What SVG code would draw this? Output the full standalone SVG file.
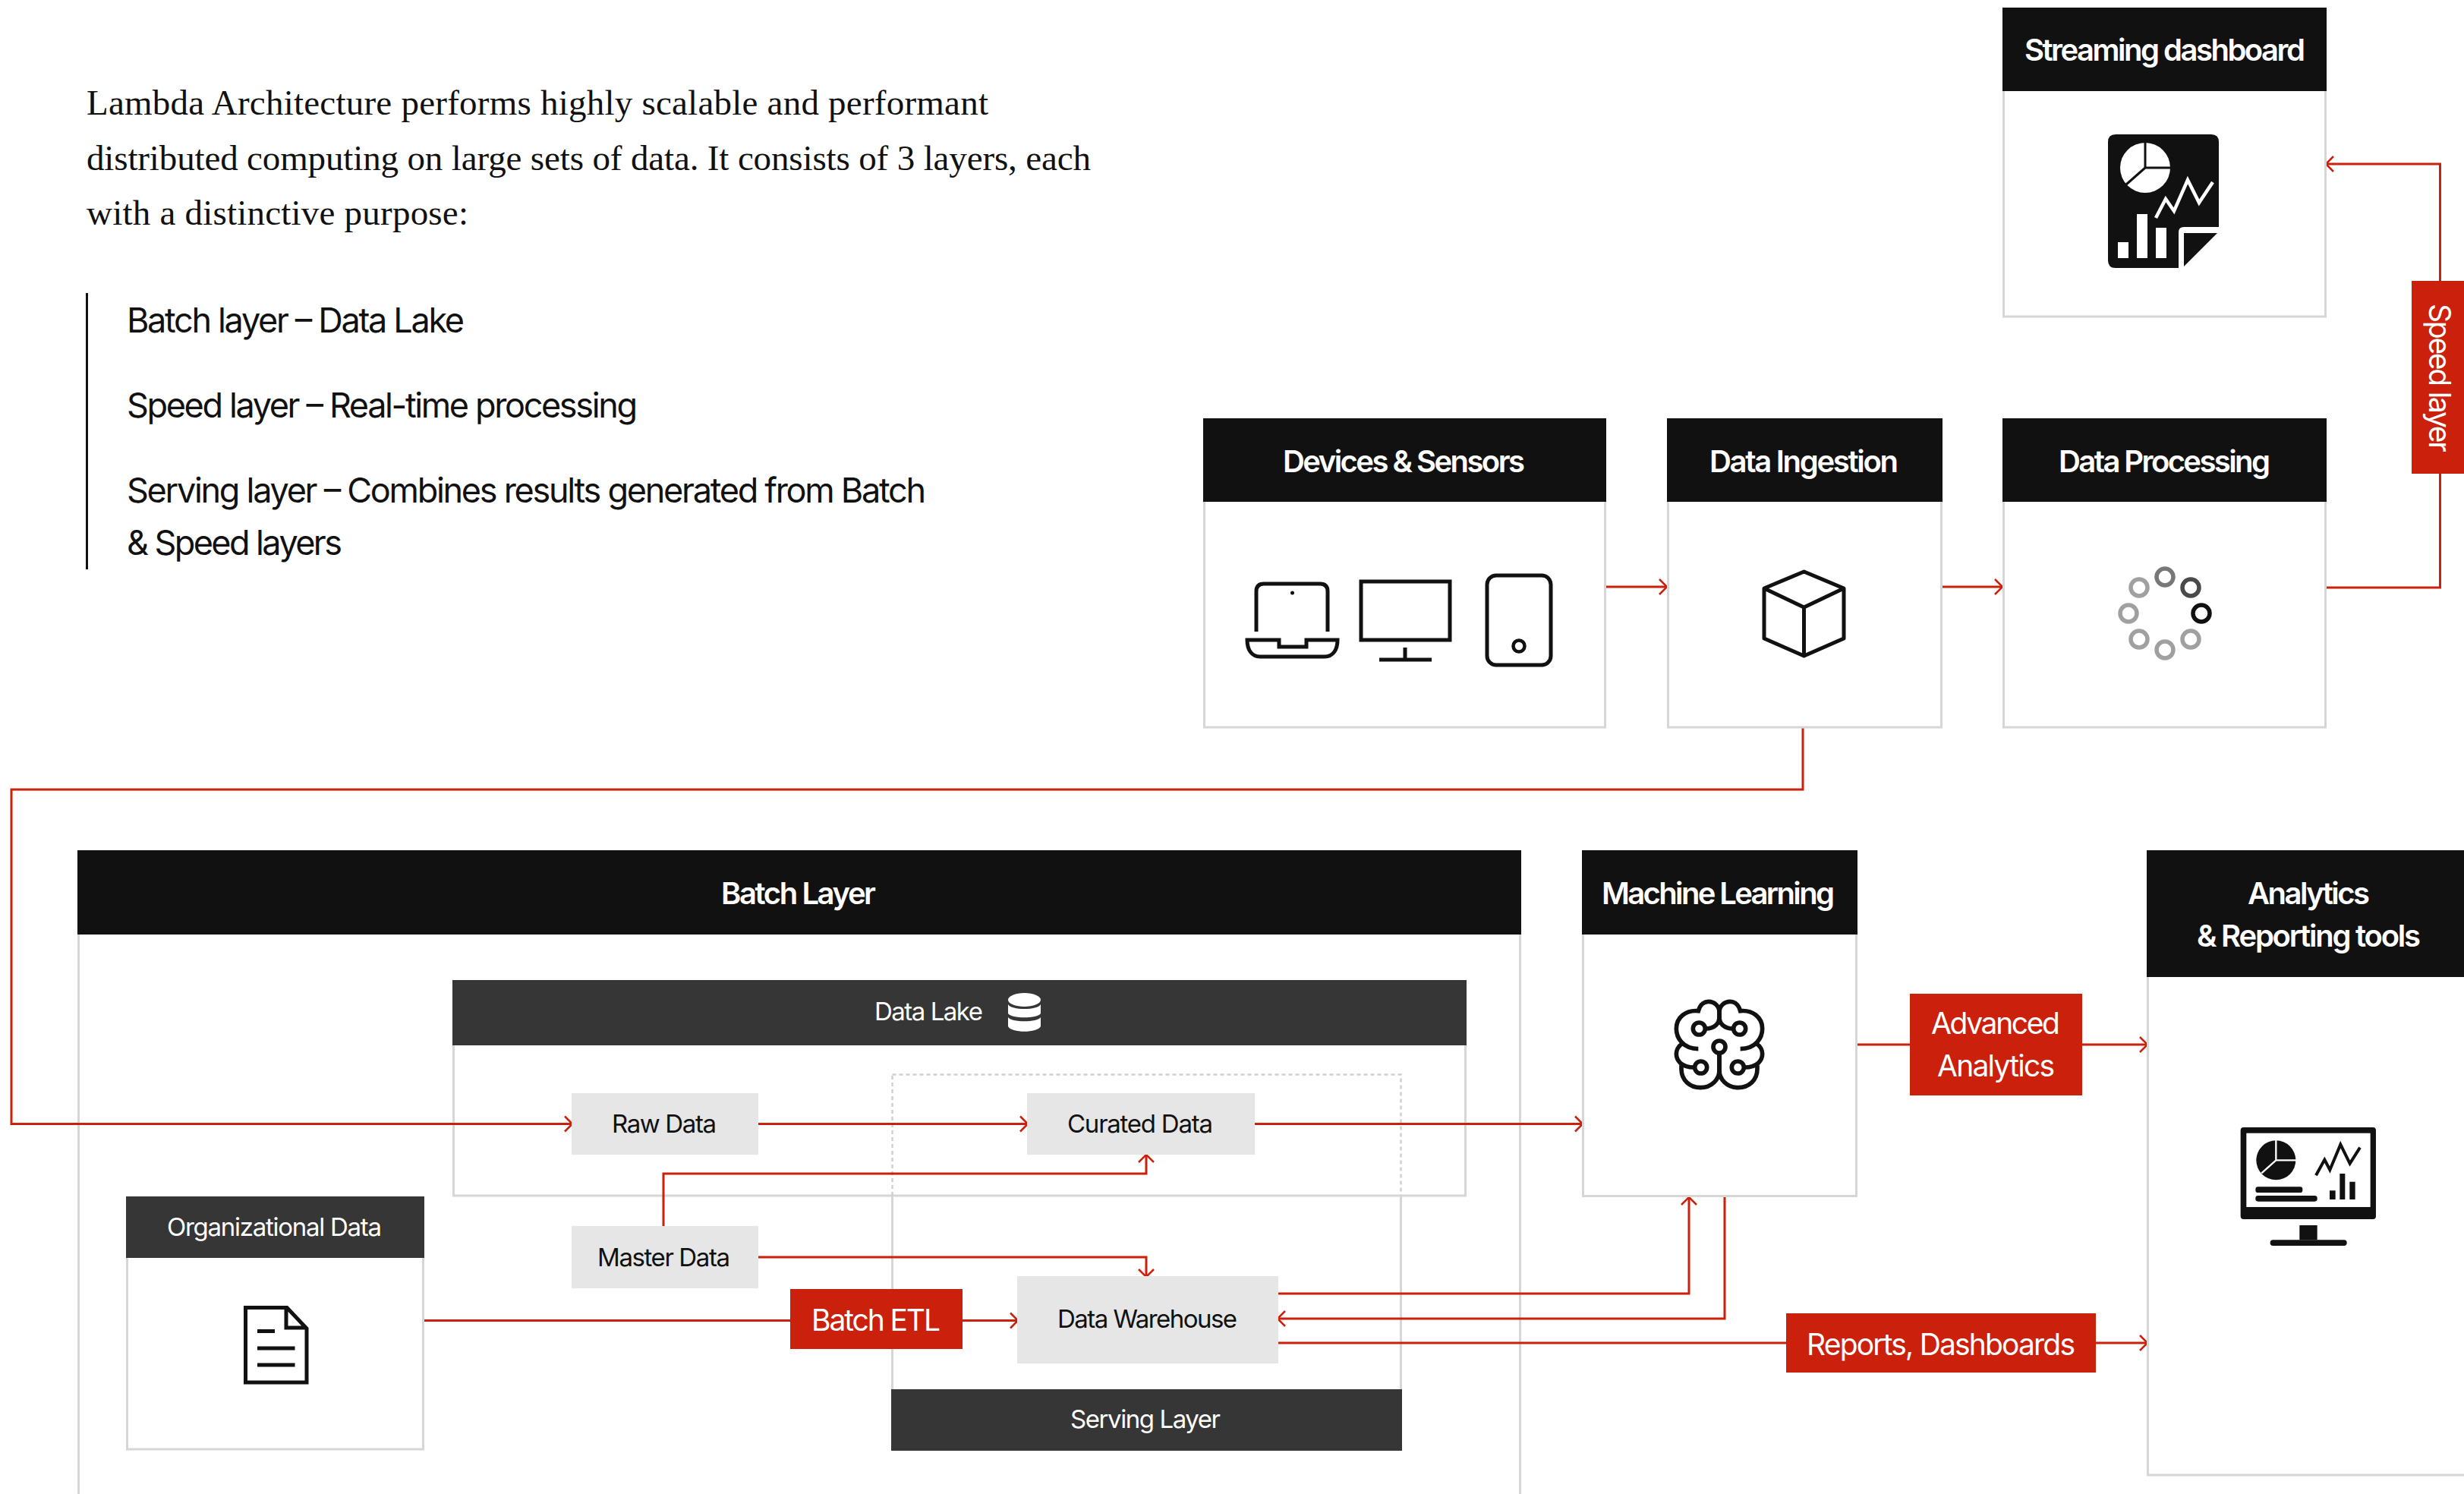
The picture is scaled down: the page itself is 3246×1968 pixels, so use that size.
<svg xmlns="http://www.w3.org/2000/svg" width="3246" height="1968" viewBox="0 0 3246 1968">
<style>
text{font-family:Inter,"Liberation Sans",sans-serif}
.body{fill:#fff;stroke:#d6d6d6;stroke-width:3}
.hd{fill:#111}
.sub{fill:#363636}
.grey{fill:#e6e6e6}
.red{fill:#cb200b}
.h{fill:#fff;font-size:40px;font-weight:600}
.w{fill:#fff;font-size:39px}
.s{fill:#fff;font-size:33px}
.d{fill:#111;font-size:33px}
.p{fill:#111;font-size:47px;font-family:"Liberation Serif",serif}
.l{fill:#111;font-size:45px}
.ic{fill:none;stroke:#111;stroke-width:5}
.c{fill:none;stroke:#cb200b;stroke-width:3}
.a{marker-end:url(#arr)}
</style>
<defs>
<marker id="arr" markerUnits="userSpaceOnUse" markerWidth="16" markerHeight="26" refX="13" refY="13" orient="auto" overflow="visible"><path d="M3,3 L13,13 L3,23" fill="none" stroke="#cb200b" stroke-width="2.5"/></marker>
</defs>
<rect width="3246" height="1968" fill="#fff"/>
<g id="intro">
<text class="p" x="114" y="151" textLength="1188">Lambda Architecture performs highly scalable and performant</text>
<text class="p" x="114" y="224" textLength="1323">distributed computing on large sets of data. It consists of 3 layers, each</text>
<text class="p" x="114" y="296" textLength="503">with a distinctive purpose:</text>
<rect x="113" y="386" width="3" height="364" fill="#111"/>
<text class="l" x="167" y="438" textLength="445">Batch layer – Data Lake</text>
<text class="l" x="167" y="550" textLength="673">Speed layer – Real-time processing</text>
<text class="l" x="167" y="662" textLength="1053">Serving layer – Combines results generated from Batch</text>
<text class="l" x="167" y="731" textLength="284">&amp; Speed layers</text>
</g>
<g id="batch-layer">
<rect class="body" x="103.500" y="1200" width="1899" height="800"/>
<rect class="hd" x="102" y="1120" width="1902" height="111"/>
<text class="h" x="950" y="1191" textLength="204">Batch Layer</text>
</g>
<g id="data-lake">
<rect class="body" x="597.500" y="1350" width="1333" height="225"/>
<rect class="sub" x="596" y="1291" width="1336" height="86"/>
<text class="s" x="1152" y="1344" textLength="143">Data Lake</text>
<g fill="#fff">
<ellipse cx="1349.500" cy="1317" rx="21.500" ry="9"/>
<path d="M1328,1323 C1332,1331 1367,1331 1371,1323 V1335 C1367,1342 1332,1342 1328,1335Z"/>
<path d="M1328,1340 C1332,1347 1367,1347 1371,1340 V1352 C1367,1361 1332,1361 1328,1352Z"/>
</g>
</g>
<g id="serving-layer">
<path d="M1175.500,1415.500 H1845.500 V1575 M1175.500,1575 V1415.500" fill="none" stroke="#d0d0d0" stroke-width="2.500" stroke-dasharray="5 4"/>
<path d="M1175.500,1575 V1830 M1845.500,1575 V1830" fill="none" stroke="#d6d6d6" stroke-width="3"/>
<rect class="sub" x="1174" y="1830" width="673" height="81"/>
<text class="s" x="1410" y="1881" textLength="198">Serving Layer</text>
</g>
<g id="connectors">
<path class="c a" d="M2116,773 H2196"/>
<path class="c a" d="M2559,773 H2638"/>
<path class="c a" d="M3065,774 H3214.500 V216 H3064"/>
<path class="c a" d="M2375,959 V1040 H15 V1480.500 H754"/>
<path class="c a" d="M999,1480.500 H1354"/>
<path class="c a" d="M1652,1480.500 H2085"/>
<path class="c a" d="M874,1615 V1546 H1510 V1521"/>
<path class="c a" d="M999,1656 H1510 V1682"/>
<path class="c a" d="M559,1739.500 H1341"/>
<path class="c a" d="M1684,1704 H2225 V1577"/>
<path class="c a" d="M2272,1576 V1737 H1683"/>
<path class="c a" d="M1684,1769 H2829"/>
<path class="c a" d="M2447,1376 H2829"/>
</g>
<g id="streaming-dashboard">
<rect class="body" x="2639.500" y="100" width="424" height="317"/>
<rect class="hd" x="2638" y="10" width="427" height="110"/>
<text class="h" x="2667" y="80" textLength="370">Streaming dashboard</text>
<path fill="#111" d="M2787,177 H2913 Q2923,177 2923,187 V299 H2877 Q2870,299 2870,306 V353 H2787 Q2777,353 2777,343 V187 Q2777,177 2787,177Z"/>
<path fill="#111" d="M2877,307 H2921 L2877,351Z"/>
<circle cx="2826" cy="221" r="33" fill="#fff"/>
<path d="M2826,187 V221 H2860 M2826,221 L2801,243" fill="none" stroke="#111" stroke-width="3"/>
<path d="M2840,287 L2853,262 L2864,278 L2882,237 L2897,267 L2915,240" fill="none" stroke="#fff" stroke-width="4.500"/>
<path fill="#fff" d="M2790,319 h14 v21 h-14Z M2815,282 h14 v58 h-14Z M2840,300 h14 v40 h-14Z"/>
</g>
<g id="devices-sensors">
<rect class="body" x="1586.500" y="600" width="528" height="358"/>
<rect class="hd" x="1585" y="551" width="531" height="110"/>
<text class="h" x="1690" y="622" textLength="319">Devices &amp; Sensors</text>
<path class="ic" d="M1655,832 V779 Q1655,769 1665,769 H1739 Q1749,769 1749,779 V832"/>
<circle cx="1702.500" cy="781" r="2.500" fill="#111"/>
<path class="ic" d="M1643,843 H1685 V852 H1721 V843 H1762 C1762,856 1756,865 1745,865 H1660 C1649,865 1643,856 1643,843Z"/>
<rect class="ic" x="1793" y="766" width="117" height="77"/>
<path class="ic" d="M1851,853 V868 M1817,869 H1886"/>
<rect class="ic" x="1959" y="758" width="84" height="118" rx="12"/>
<circle class="ic" cx="2001" cy="851" r="7.500" style="stroke-width:4.500"/>
</g>
<g id="data-ingestion">
<rect class="body" x="2197.500" y="600" width="360" height="358"/>
<rect class="hd" x="2196" y="551" width="363" height="110"/>
<text class="h" x="2252" y="622" textLength="249">Data Ingestion</text>
<path class="ic" style="stroke-linejoin:round" d="M2376.500,753 L2429,775 V841 L2376.500,864 L2324,841 V775Z M2324,775 L2376.500,800 L2429,775 M2376.500,800 V864"/>
</g>
<g id="data-processing">
<rect class="body" x="2639.500" y="600" width="424" height="358"/>
<rect class="hd" x="2638" y="551" width="427" height="110"/>
<text class="h" x="2712" y="622" textLength="279">Data Processing</text>
<g fill="none" stroke-width="5.500" stroke="#a0a0a0">
<circle cx="2818" cy="774" r="11"/><circle cx="2804" cy="808" r="11"/><circle cx="2818" cy="842" r="11"/><circle cx="2852" cy="856" r="11"/><circle cx="2886" cy="842" r="11"/>
<circle cx="2852" cy="760" r="11" stroke="#787878"/><circle cx="2886" cy="774" r="11" stroke="#4a4a4a"/><circle cx="2900" cy="808" r="11" stroke="#111"/>
</g>
</g>
<g id="speed-layer-label">
<rect class="red" x="3177" y="370" width="69" height="254"/>
<text class="w" transform="translate(3200,400) rotate(90)" textLength="196">Speed layer</text>
</g>
<g id="raw-data"><rect class="grey" x="753" y="1440" width="246" height="81"/><text class="d" x="806" y="1492" textLength="138">Raw Data</text></g>
<g id="curated-data"><rect class="grey" x="1353" y="1440" width="300" height="81"/><text class="d" x="1406" y="1492" textLength="192">Curated Data</text></g>
<g id="master-data"><rect class="grey" x="753" y="1615" width="246" height="82"/><text class="d" x="787" y="1668" textLength="175">Master Data</text></g>
<g id="data-warehouse"><rect class="grey" x="1340" y="1681" width="344" height="115"/><text class="d" x="1393" y="1749" textLength="237">Data Warehouse</text></g>
<g id="batch-etl"><rect class="red" x="1041" y="1698" width="227" height="79"/><text class="w" x="1069" y="1753" textLength="170">Batch ETL</text></g>
<g id="organizational-data">
<rect class="body" x="167.500" y="1600" width="390" height="309"/>
<rect class="sub" x="166" y="1576" width="393" height="81"/>
<text class="s" x="220" y="1628" textLength="283">Organizational Data</text>
<path class="ic" d="M323.500,1722.500 H378 L404,1750 V1821 H323.500Z M377,1722.500 V1749 H404"/>
<path class="ic" d="M339,1753.500 H362 M339,1776 H388.500 M339,1798 H388.500"/>
</g>
<g id="machine-learning">
<rect class="body" x="2085.500" y="1200" width="360" height="375.500"/>
<rect class="hd" x="2084" y="1120" width="363" height="111"/>
<text class="h" x="2110" y="1191" textLength="307">Machine Learning</text>
<g transform="translate(2160,1280) scale(.3333)" fill="none" stroke="#111" stroke-width="17">
<g id="brain-half">
<path d="M232,305 C170,305 145,260 145,225 C145,180 185,150 232,155 C240,125 260,118 272,118 C295,118 315,135 315,160 V180 C315,205 295,225 262,225"/>
<circle cx="235" cy="225" r="24"/>
<path d="M170,283 C150,295 145,315 145,325 C145,350 165,378 215,378"/>
<circle cx="242" cy="378" r="24"/>
<path d="M165,370 V385 C165,430 200,458 240,458 C285,458 315,425 315,390 V322"/>
</g>
<g transform="translate(630,0) scale(-1,1)">
<path d="M232,305 C170,305 145,260 145,225 C145,180 185,150 232,155 C240,125 260,118 272,118 C295,118 315,135 315,160 V180 C315,205 295,225 262,225"/>
<circle cx="235" cy="225" r="24"/>
<path d="M170,283 C150,295 145,315 145,325 C145,350 165,378 215,378"/>
<circle cx="242" cy="378" r="24"/>
<path d="M165,370 V385 C165,430 200,458 240,458 C285,458 315,425 315,390 V322"/>
</g>
<circle cx="315" cy="297" r="24"/>
</g>
</g>
<g id="analytics-reporting">
<rect class="body" x="2829.500" y="1250" width="500" height="693"/>
<rect class="hd" x="2828" y="1120" width="418" height="167"/>
<text class="h" x="2961" y="1191" textLength="161">Analytics</text>
<text class="h" x="2894" y="1247" textLength="295">&amp; Reporting tools</text>
<g transform="translate(2920,1460) scale(.3333)">
<rect x="95" y="75" width="535" height="363" rx="12" fill="#111"/>
<rect x="118" y="98" width="490" height="292" fill="#fff"/>
<circle cx="235" cy="205" r="78" fill="#111"/>
<path d="M235,125 V205 H315 M235,205 L178,256" fill="none" stroke="#fff" stroke-width="7"/>
<rect x="154" y="310" width="186" height="23" rx="10" fill="#111"/>
<rect x="154" y="345" width="244" height="23" rx="10" fill="#111"/>
<path d="M393,265 L427,203 L448,243 L490,143 L527,218 L567,155" fill="none" stroke="#111" stroke-width="12"/>
<path fill="#111" d="M447,325 h23 v35 h-23Z M487,258 h21 v102 h-21Z M526,290 h22 v70 h-22Z M328,462 h70 v58 h-70Z"/>
<rect x="212" y="520" width="303" height="23" rx="11" fill="#111"/>
</g>
</g>
<g id="advanced-analytics">
<rect class="red" x="2516" y="1309" width="227" height="134"/>
<text class="w" x="2544" y="1362" textLength="170">Advanced</text>
<text class="w" x="2552" y="1418" textLength="155">Analytics</text>
</g>
<g id="reports-dashboards">
<rect class="red" x="2353" y="1730" width="408" height="78"/>
<text class="w" x="2380" y="1785" textLength="354">Reports, Dashboards</text>
</g>
</svg>
